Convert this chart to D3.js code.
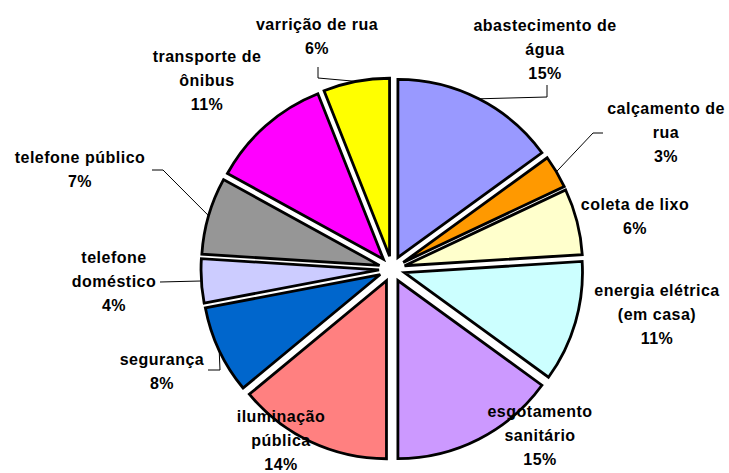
<!DOCTYPE html>
<html>
<head>
<meta charset="utf-8">
<script src="https://cdn.jsdelivr.net/npm/d3@7"></script>
<style>
  body { margin: 0; background: #fff; }
  text { font-family: "Liberation Sans", Arial, sans-serif; font-weight: bold; font-size: 16px; letter-spacing: 0.5px; fill: #000; }
</style>
</head>
<body>
<div id="chart"></div>
<script>
// data, clockwise from 12 o'clock
var categories = ["abastecimento de água", "calçamento de rua", "coleta de lixo", "energia elétrica (em casa)",
  "esgotamento sanitário", "iluminação pública", "segurança", "telefone doméstico",
  "telefone público", "transporte de ônibus", "varrição de rua"];
var values = [15, 3, 6, 11, 15, 14, 8, 4, 7, 11, 6];
var labelLines = [["abastecimento de", "água"], ["calçamento de", "rua"], ["coleta de lixo"],
  ["energia elétrica", "(em casa)"], ["esgotamento", "sanitário"], ["iluminação", "pública"],
  ["segurança"], ["telefone", "doméstico"], ["telefone público"], ["transporte de", "ônibus"],
  ["varrição de rua"]];
var colors = ["#9999FF", "#FF9900", "#FFFFCC", "#CCFFFF", "#CC99FF", "#FF8080",
  "#0066CC", "#CCCCFF", "#969696", "#FF00FF", "#FFFF00"];

// label placement: centre x, first baseline y, optional leader (start, elbow)
var labelPos = [
  {x: 545, y: 31, lead: [[547, 85], [547, 97]]},
  {x: 666, y: 114, lead: [[603, 133], [593, 133]]},
  {x: 635, y: 210},
  {x: 657, y: 296},
  {x: 540, y: 417},
  {x: 281, y: 422},
  {x: 162, y: 365, lead: [[208, 370], [220, 370]]},
  {x: 114, y: 263, lead: [[160, 282], [160, 282]]},
  {x: 80, y: 163, lead: [[152, 170], [163, 170]]},
  {x: 207, y: 62},
  {x: 317, y: 30, lead: [[318, 67], [318, 78]]}
];

var width = 729, height = 473;
var cx = 392, cy = 269, radius = 178, explode = 13, lineH = 24;

var svg = d3.select("#chart").append("svg")
    .attr("width", width)
    .attr("height", height);

var pie = d3.pie().sort(null).value(function(d) { return d; });
var arcs = pie(values);
var arc = d3.arc().innerRadius(0).outerRadius(radius);

function midAngle(d) { return (d.startAngle + d.endAngle) / 2; }

var g = svg.append("g").attr("transform", "translate(" + cx + "," + cy + ")");

g.selectAll("path.slice")
  .data(arcs)
  .enter().append("path")
    .attr("class", "slice")
    .attr("d", arc)
    .attr("fill", function(d, i) { return colors[i]; })
    .attr("stroke", "#000")
    .attr("stroke-width", 2.8)
    .attr("transform", function(d) {
      var a = midAngle(d);
      return "translate(" + (explode * Math.sin(a)) + "," + (-explode * Math.cos(a)) + ")";
    });

// leader lines
var leaders = svg.append("g");
arcs.forEach(function(d, i) {
  var p = labelPos[i];
  if (!p.lead) return;
  var a = midAngle(d);
  var ex = cx + (explode + radius) * Math.sin(a);
  var ey = cy - (explode + radius) * Math.cos(a);
  var pts = p.lead.concat([[ex, ey]]);
  leaders.append("path")
    .attr("d", d3.line()(pts))
    .attr("fill", "none")
    .attr("stroke", "#000")
    .attr("stroke-width", 1);
});

// labels
var labels = svg.append("g");
arcs.forEach(function(d, i) {
  var p = labelPos[i];
  var t = labels.append("text")
    .attr("text-anchor", "middle")
    .attr("x", p.x)
    .attr("y", p.y);
  var lines = labelLines[i].concat([values[i] + "%"]);
  lines.forEach(function(s, k) {
    t.append("tspan")
      .attr("x", p.x)
      .attr("y", p.y + k * lineH)
      .text(s);
  });
});
</script>
</body>
</html>
